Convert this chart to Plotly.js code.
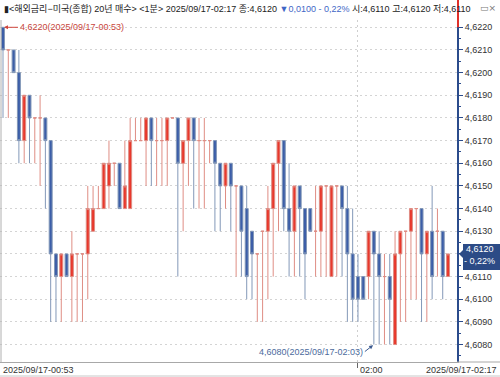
<!DOCTYPE html>
<html><head><meta charset="utf-8">
<script src="https://cdn.plot.ly/plotly-3.0.1.min.js"></script>
<style>html,body{margin:0;padding:0;background:#fff;}#chart{width:500px;height:377px;}</style>
</head><body><div id="chart"></div>
<script>
// 1-minute bars starting 2025/09/17 00:53
const startMinute = 53; // minutes after 00:00
const openP  = [4.6220,4.6210,4.6210,4.6200,4.6170,4.6190,4.6180,4.6180,4.6180,4.6170,
                4.6120,4.6110,4.6120,4.6110,4.6120,4.6120,4.6120,4.6130,4.6140,4.6140,
                4.6150,4.6160,4.6160,4.6140,4.6140,4.6170,4.6170,4.6170,4.6180,4.6170,
                4.6170,4.6170,4.6180,4.6180,4.6160,4.6170,4.6180,4.6170,4.6170,4.6170,
                4.6170,4.6160,4.6150,4.6160,4.6150,4.6150,4.6140,4.6130,4.6120,4.6130,
                4.6130,4.6140,4.6160,4.6170,4.6140,4.6130,4.6150,4.6140,4.6140,4.6130,
                4.6130,4.6150,4.6110,4.6150,4.6150,4.6140,4.6120,4.6110,4.6110,4.6110,
                4.6130,4.6120,4.6110,4.6110,4.6080,4.6120,4.6130,4.6130,4.6140,4.6140,
                4.6120,4.6130,4.6130,4.6130,4.6110];
const highP  = [4.6220,4.6210,4.6210,4.6210,4.6190,4.6190,4.6180,4.6190,4.6180,4.6170,
                4.6120,4.6120,4.6120,4.6130,4.6120,4.6120,4.6150,4.6150,4.6150,4.6160,
                4.6170,4.6160,4.6160,4.6170,4.6180,4.6180,4.6180,4.6180,4.6180,4.6180,
                4.6180,4.6180,4.6180,4.6180,4.6170,4.6180,4.6180,4.6180,4.6180,4.6170,
                4.6170,4.6160,4.6160,4.6160,4.6150,4.6150,4.6150,4.6130,4.6120,4.6130,
                4.6150,4.6160,4.6170,4.6170,4.6160,4.6150,4.6150,4.6140,4.6140,4.6150,
                4.6150,4.6150,4.6150,4.6150,4.6150,4.6150,4.6140,4.6120,4.6110,4.6130,
                4.6130,4.6130,4.6120,4.6120,4.6130,4.6130,4.6130,4.6140,4.6140,4.6140,
                4.6130,4.6150,4.6140,4.6130,4.6120];
const lowP   = [4.6180,4.6180,4.6200,4.6160,4.6160,4.6160,4.6160,4.6150,4.6140,4.6090,
                4.6090,4.6090,4.6110,4.6090,4.6090,4.6090,4.6100,4.6130,4.6140,4.6140,
                4.6140,4.6150,4.6140,4.6140,4.6140,4.6170,4.6170,4.6150,4.6150,4.6150,
                4.6150,4.6150,4.6180,4.6110,4.6130,4.6150,4.6140,4.6140,4.6140,4.6160,
                4.6130,4.6130,4.6140,4.6130,4.6110,4.6110,4.6100,4.6100,4.6090,4.6090,
                4.6100,4.6110,4.6130,4.6130,4.6110,4.6110,4.6110,4.6100,4.6130,4.6110,
                4.6110,4.6110,4.6110,4.6110,4.6110,4.6090,4.6090,4.6090,4.6100,4.6100,
                4.6080,4.6080,4.6080,4.6080,4.6080,4.6090,4.6090,4.6100,4.6100,4.6090,
                4.6090,4.6100,4.6110,4.6100,4.6110];
const closeP = [4.6210,4.6210,4.6200,4.6170,4.6190,4.6180,4.6180,4.6180,4.6170,4.6120,
                4.6110,4.6120,4.6110,4.6120,4.6120,4.6120,4.6140,4.6140,4.6140,4.6160,
                4.6160,4.6160,4.6140,4.6150,4.6170,4.6170,4.6170,4.6180,4.6170,4.6170,
                4.6170,4.6180,4.6180,4.6160,4.6170,4.6180,4.6170,4.6170,4.6170,4.6170,
                4.6160,4.6150,4.6160,4.6150,4.6150,4.6130,4.6110,4.6120,4.6120,4.6130,
                4.6140,4.6160,4.6170,4.6140,4.6130,4.6150,4.6140,4.6120,4.6130,4.6130,
                4.6150,4.6150,4.6150,4.6150,4.6140,4.6120,4.6100,4.6100,4.6100,4.6130,
                4.6120,4.6110,4.6110,4.6100,4.6120,4.6130,4.6130,4.6140,4.6140,4.6120,
                4.6130,4.6110,4.6130,4.6110,4.6120];
const yTickVals = [4.6080,4.6090,4.6100,4.6110,4.6120,4.6130,4.6140,4.6150,
                   4.6160,4.6170,4.6180,4.6190,4.6200,4.6210,4.6220];

const headerText = '▮&lt;해외금리−미국(종합) 20년 매수&gt; &lt;1분&gt; 2025/09/17-02:17 종:4,6120 ' +
  '<span style="color:#3f66c6">▼0,0100 - 0,22%</span> 시:4,6110 고:4,6120 저:4,6110';
const lastLine1 = '4,6120', lastLine2 = '- 0,22%';
const axisGridTime = 120; // 02:00 in minutes

function pad(n){ return (n<10?'0':'') + n; }
function tstr(min){
  const ms = Math.round(min*60000);
  const h = Math.floor(ms/3600000), m = Math.floor((ms%3600000)/60000), s = (ms%60000)/1000;
  return '2025-09-17 ' + pad(h) + ':' + pad(m) + ':' + (s<10?'0':'') + s.toFixed(3);
}
function hm(min){ return pad(Math.floor(min/60)) + ':' + pad(min%60); }
const times = openP.map((_, i) => tstr(startMinute + i));
const fmt = v => v.toFixed(4).replace('.', ',');

const upIdx = [], dnIdx = [];
closeP.forEach((c, i) => (c >= openP[i] ? upIdx : dnIdx).push(i));
const pick = (arr, idx) => idx.map(i => arr[i]);

const RED = '#e8382c', RED_L = '#df8d84', BLUE = '#3c5ea8', BLUE_L = '#8398b8';
function ctrace(idx, fill, line){
  const st = {line:{color: line, width: 1}, fillcolor: fill};
  return {type:'candlestick', x: pick(times, idx), open: pick(openP, idx), high: pick(highP, idx),
          low: pick(lowP, idx), close: pick(closeP, idx), increasing: st, decreasing: st,
          whiskerwidth: 0, hoverinfo: 'skip'};
}
const traces = [ctrace(upIdx, RED, RED_L), ctrace(dnIdx, BLUE, BLUE_L)];

// extremes
let iMax = 0, iMin = 0;
highP.forEach((v, i) => { if (v > highP[iMax]) iMax = i; });
lowP.forEach((v, i) => { if (v < lowP[iMin]) iMin = i; });

const W = 500, H = 377, mL = 0, mR = 43, mT = 20, mB = 15;
const plotW = W - mL - mR, plotH = H - mT - mB;
const pxPerMin = 5.298, firstBarPx = 3;
const xr0 = startMinute - firstBarPx / pxPerMin;
const xr1 = xr0 + plotW / pxPerMin;
const gridTop = 4.6220, pxPerUnit = 22.66 / 0.001;
const yr1 = gridTop + 7.3 / pxPerUnit;
const yr0 = yr1 - plotH / pxPerUnit;
const py = v => (v - yr0) / (yr1 - yr0);   // value -> paper y
const ppx = px => (px - mL) / plotW;       // pixel x -> paper x
const ppy = pxy => (H - mB - pxy) / plotH;  // pixel y -> paper y
const lastClose = closeP[closeP.length - 1];
// the label at the last close is covered by the current-price box
const yTickText = yTickVals.map(v => Math.abs(v - lastClose) < 1e-9 ? '' : fmt(v));

const labFont = {family: 'Liberation Sans, Noto Sans CJK KR', size: 9, color: '#333'};

const layout = {
  width: W, height: H, margin: {l: mL, r: mR, t: mT, b: mB},
  paper_bgcolor: '#fff', plot_bgcolor: '#fff', showlegend: false,
  separators: ',.', boxgap: 0.2, hovermode: false,
  xaxis: {type: 'date', range: [tstr(xr0), tstr(xr1)], rangeslider: {visible: false},
          tickvals: [tstr(axisGridTime)], showticklabels: false, ticks: 'outside', ticklen: 5,
          tickcolor: '#666', showgrid: true, gridcolor: '#cfcfcf', griddash: '2px,3px',
          showline: true, linecolor: '#a8a8a8', linewidth: 1, zeroline: false, fixedrange: true},
  yaxis: {side: 'right', range: [yr0, yr1], tickvals: yTickVals, ticktext: yTickText,
          ticks: 'outside', ticklen: 4, tickcolor: '#2b4c8c', showline: true, linecolor: '#2b4c8c',
          linewidth: 2, showgrid: true, gridcolor: '#d4d4d4', griddash: '2px,3px', zeroline: false,
          tickfont: {family: 'Liberation Sans', size: 9, color: '#333'}, fixedrange: true,
          minor: {dtick: 0.0005, tick0: 4.6080, ticks: 'outside', ticklen: 2, tickcolor: '#2b4c8c', showgrid: false}},
  shapes: [
    {type: 'line', xref: 'paper', yref: 'paper', x0: ppx(1), x1: ppx(1), y0: 0, y1: 1,
     line: {color: '#b0b0b0', width: 1}},
    {type: 'line', xref: 'paper', yref: 'paper', x0: 1, x1: ppx(W), y0: 0, y1: 0,
     line: {color: '#a8a8a8', width: 1}},
    {type: 'line', xref: 'paper', yref: 'paper', x0: 0, x1: ppx(W), y0: ppy(376), y1: ppy(376),
     line: {color: '#c8c8c8', width: 1}},
    {type: 'line', xref: 'paper', yref: 'paper', x0: ppx(458), x1: ppx(458), y0: py(gridTop), y1: ppy(0),
     line: {color: '#e0302a', width: 2}},
    {type: 'path', xref: 'paper', yref: 'y', xsizemode: 'pixel', ysizemode: 'pixel',
     xanchor: 1, yanchor: lastClose,
     path: 'M 2 0 L 6 4 L 6 10 L 43 10 L 43 -16 L 6 -16 L 6 -4 Z',
     fillcolor: '#2c4b86', line: {width: 0}}
  ],
  annotations: [
    {xref: 'paper', yref: 'paper', x: ppx(2), y: ppy(9), xanchor: 'left', yanchor: 'middle',
     showarrow: false, text: headerText,
     font: {family: 'Liberation Sans, Noto Sans CJK KR', size: 9, color: '#222'}},
    {xref: 'paper', yref: 'paper', x: ppx(498), y: ppy(8), xanchor: 'right', yanchor: 'middle',
     showarrow: false, text: '▭×', font: {family: 'DejaVu Sans', size: 9, color: '#777'}},
    {x: times[iMax], y: highP[iMax], xanchor: 'left', yanchor: 'middle', ax: 15, ay: 0,
     text: fmt(highP[iMax]) + '(2025/09/17-' + hm(startMinute + iMax) + ')',
     showarrow: true, arrowhead: 2, arrowsize: 0.8, arrowwidth: 1, arrowcolor: '#d0463c', standoff: 1,
     font: {family: 'Liberation Sans', size: 9, color: '#c8463c'}},
    {x: times[iMin], y: lowP[iMin], xanchor: 'right', yanchor: 'middle', ax: -9, ay: 7,
     text: fmt(lowP[iMin]) + '(2025/09/17-' + hm(startMinute + iMin) + ')',
     showarrow: true, arrowhead: 2, arrowsize: 0.8, arrowwidth: 1, arrowcolor: '#3c5a90', standoff: 1,
     font: {family: 'Liberation Sans', size: 9, color: '#4b6a9c'}},
    {xref: 'paper', yref: 'y', x: ppx(480), y: lastClose, xanchor: 'center', yanchor: 'middle',
     yshift: 5, showarrow: false, text: lastLine1,
     font: {family: 'Liberation Sans', size: 9, color: '#fff'}},
    {xref: 'paper', yref: 'y', x: ppx(480), y: lastClose, xanchor: 'center', yanchor: 'middle',
     yshift: -7, showarrow: false, text: lastLine2,
     font: {family: 'Liberation Sans', size: 9, color: '#fff'}},
    {xref: 'paper', yref: 'paper', x: ppx(1), y: ppy(369.5), xanchor: 'left', yanchor: 'middle',
     showarrow: false, text: '2025/09/17-' + hm(startMinute), font: labFont},
    {xref: 'x', yref: 'paper', x: tstr(axisGridTime), y: ppy(369.5), xanchor: 'left', yanchor: 'middle',
     showarrow: false, text: hm(axisGridTime), font: labFont},
    {xref: 'paper', yref: 'paper', x: ppx(499), y: ppy(369.5), xanchor: 'right', yanchor: 'middle',
     showarrow: false, text: '2025/09/17-' + hm(startMinute + openP.length - 1), font: labFont}
  ]
};
Plotly.newPlot('chart', traces, layout, {displayModeBar: false, staticPlot: true});
</script></body></html>
